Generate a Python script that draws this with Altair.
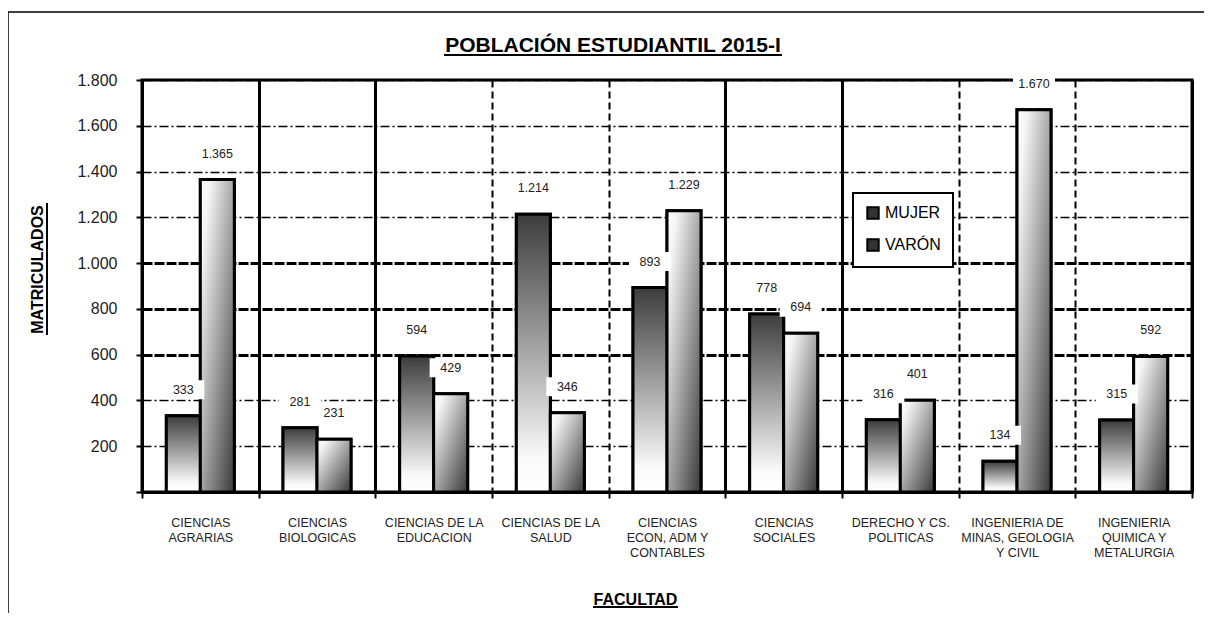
import json
import altair as alt
import pandas as pd

# ---------------- data ----------------
facultades = [
    "CIENCIAS|AGRARIAS",
    "CIENCIAS|BIOLOGICAS",
    "CIENCIAS DE LA|EDUCACION",
    "CIENCIAS DE LA|SALUD",
    "CIENCIAS|ECON, ADM Y|CONTABLES",
    "CIENCIAS|SOCIALES",
    "DERECHO Y CS.|POLITICAS",
    "INGENIERIA DE|MINAS, GEOLOGIA|Y CIVIL",
    "INGENIERIA|QUIMICA Y|METALURGIA",
]
sexos = ["MUJER", "VARÓN"]
mujer = [333, 281, 594, 1214, 893, 778, 316, 134, 315]
varon = [1365, 231, 429, 346, 1229, 694, 401, 1670, 592]
y_ticks = [0, 200, 400, 600, 800, 1000, 1200, 1400, 1600, 1800]
titulo = "POBLACIÓN ESTUDIANTIL 2015-I"
titulo_x = "FACULTAD"
titulo_y = "MATRICULADOS"

rows = []
for f, m, v in zip(facultades, mujer, varon):
    rows.append({"facultad": f, "sexo": sexos[0], "valor": m})
    rows.append({"facultad": f, "sexo": sexos[1], "valor": v})
df = pd.DataFrame(rows)
one = pd.DataFrame({"titulo": [titulo]})

# ---------------- styles ----------------
SANS = "Liberation Sans, Arial, sans-serif"
W, H = 1050, 412

grad_mujer = {"gradient": "linear", "x1": 0, "y1": 0, "x2": 0, "y2": 1,
              "stops": [{"offset": 0, "color": "#3c3c3c"},
                        {"offset": 0.88, "color": "#fafafa"},
                        {"offset": 1, "color": "#ffffff"}]}
grad_varon = {"gradient": "linear", "x1": 0, "y1": 0, "x2": 1, "y2": 1,
              "stops": [{"offset": 0, "color": "#ffffff"},
                        {"offset": 0.15, "color": "#f4f4f4"},
                        {"offset": 1, "color": "#383838"}]}

# grid lines are drawn at the right edge of each band (tickBand = extent)
dashed_cats = [facultades[i] for i in (2, 3, 6, 7)]
x_test = "indexof(%s, datum.value) >= 0" % json.dumps(dashed_cats, ensure_ascii=False)
y_test = "datum.value >= 600 && datum.value <= 1000"

x_enc = alt.X(
    "facultad:N",
    sort=facultades,
    scale=alt.Scale(domain=facultades, paddingInner=0, paddingOuter=0),
    axis=alt.Axis(
        title=titulo_x, titleX=493, titleY=107, titleBaseline="middle",
        titleFont=SANS, titleFontSize=16, titleFontWeight="bold", titleColor="black",
        labelExpr="datum.value ? split(datum.value, '|') : ''", labelAngle=0, labelFont=SANS,
        labelFontSize=12.5, labelColor="#222", labelLineHeight=15, labelPadding=18,
        labelBaseline="top",
        tickBand="extent", ticks=True, tickSize=6, tickWidth=2, tickColor="black",
        domain=True, domainColor="black", domainWidth=3,
        grid=True, gridColor="black",
        gridDash={"condition": {"test": x_test, "value": [7, 4]}, "value": [1, 0]},
        gridWidth={"condition": {"test": x_test, "value": 2}, "value": 3},
    ),
)
x_off = alt.XOffset("sexo:N", scale=alt.Scale(domain=sexos, paddingInner=0, paddingOuter=0.716))
y_enc = alt.Y(
    "valor:Q",
    scale=alt.Scale(domain=[0, 1800], nice=False),
    axis=alt.Axis(
        title=titulo_y, titleX=-105, titleY=189, titleAngle=270, titleAlign="center",
        titleBaseline="middle", titleFont=SANS, titleFontSize=16, titleFontWeight="bold",
        titleColor="black",
        values=y_ticks,
        labelExpr="datum.value == 0 ? '' : replace(format(datum.value, ','), ',', '.')",
        labelFont=SANS, labelFontSize=16, labelColor="#222", labelPadding=19,
        tickSize=6, tickWidth=2, tickColor="black",
        domain=True, domainColor="black", domainWidth=2.5,
        grid=True, gridColor="black",
        gridDash={"condition": {"test": y_test, "value": [10, 2]}, "value": [9, 3, 2, 3]},
        gridWidth={"condition": {"test": y_test, "value": 3}, "value": 1.6},
    ),
)

base = alt.Chart(df)
deco = alt.Chart(one)

# outer frame of the whole chart
frame = deco.mark_rect(fill="white", fillOpacity=0, stroke="black", strokeWidth=1.5).encode(
    x=alt.value(-134), x2=alt.value(W + 200), y=alt.value(-68), y2=alt.value(H + 300)
)

title_txt = deco.mark_text(
    font=SANS, fontSize=21, fontWeight="bold", color="black",
    align="center", baseline="alphabetic"
).encode(x=alt.value(471), y=alt.value(-28), text="titulo:N")

legend_bars = base.mark_bar(stroke="black", strokeWidth=3).encode(
    x=x_enc, xOffset=x_off, y=y_enc,
    color=alt.Color("sexo:N", scale=alt.Scale(domain=sexos, range=["#333333", "#333333"]),
                    legend=alt.Legend(title=None, orient="none", legendX=711, legendY=113,
                                      symbolType="square", symbolSize=130,
                                      symbolStrokeColor="black", symbolStrokeWidth=2,
                                      labelFont=SANS, labelFontSize=16, labelColor="black",
                                      labelOffset=4, rowPadding=12, padding=12,
                                      strokeColor="black", fillColor="white")),
)

grad_bars = base.mark_bar(stroke="black", strokeWidth=3).encode(
    x=x_enc, xOffset=x_off, y=y_enc,
    fill=alt.condition("datum.sexo === 'MUJER'", alt.value(grad_mujer), alt.value(grad_varon)),
)

box_path = "M-1,-1.69L1,-1.69L1,-0.786L-1,-0.786Z"
boxes = base.mark_point(shape=box_path, size=1764, filled=True, fill="white", opacity=1,
                        strokeWidth=0).encode(x=x_enc, xOffset=x_off, y=y_enc)

labels = base.transform_calculate(
    etiqueta="replace(format(datum.valor, ','), ',', '.')"
).mark_text(dy=-26, baseline="middle", align="center", font=SANS, fontSize=12.5,
            color="#222").encode(x=x_enc, xOffset=x_off, y=y_enc, text="etiqueta:N")

u_title = deco.mark_rule(color="black", strokeWidth=2).encode(
    x=alt.value(302), x2=alt.value(640), y=alt.value(-25), y2=alt.value(-25))
u_x = deco.mark_rule(color="black", strokeWidth=2).encode(
    x=alt.value(451), x2=alt.value(536), y=alt.value(527), y2=alt.value(527))
u_y = deco.mark_rule(color="black", strokeWidth=2).encode(
    x=alt.value(-95), x2=alt.value(-95), y=alt.value(123), y2=alt.value(255))

chart = alt.layer(frame, title_txt, legend_bars, grad_bars, boxes, labels,
                  u_title, u_x, u_y).properties(
    width=W, height=H,
    autosize=alt.AutoSizeParams(type="none"),
    padding={"left": 134, "top": 72, "right": 12, "bottom": 121},
).configure_view(stroke="black", strokeWidth=3).configure_legend(strokeWidth=2)

chart.save("out.html", embed_options={"renderer": "svg", "actions": False})
